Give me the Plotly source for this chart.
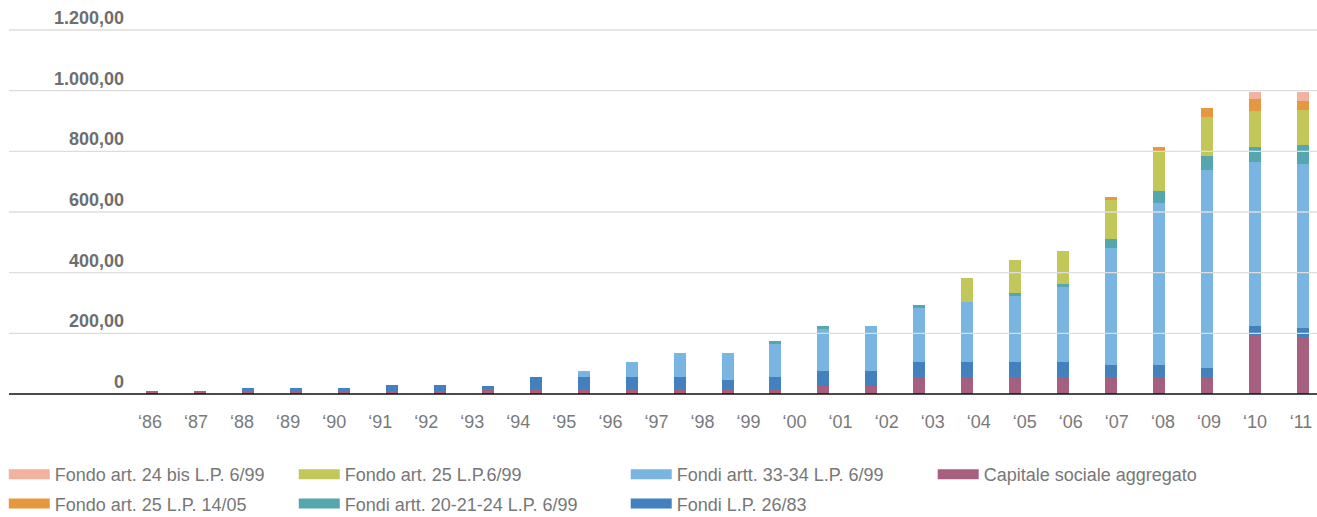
import plotly.graph_objects as go

# Year labels on the axis (1986-2011) and the years carried by the bars
tick_years = list(range(1986, 2012))
tick_labels = ["‘86", "‘87", "‘88", "‘89", "‘90", "‘91", "‘92", "‘93", "‘94",
               "‘95", "‘96", "‘97", "‘98", "‘99", "‘00", "‘01", "‘02", "‘03",
               "‘04", "‘05", "‘06", "‘07", "‘08", "‘09", "‘10", "‘11"]
bar_years = list(range(1987, 2012))

# Stacked components (bottom to top)
capitale = [11, 11, 9, 9, 9, 9, 9, 16, 16, 16, 16, 16, 16, 16, 26, 26,
            56, 56, 56, 56, 56, 56, 56, 195, 188]
fondi_26_83 = [0, 0, 12, 12, 12, 21, 21, 10, 40, 40, 40, 40, 30, 40, 50, 50,
               49, 49, 49, 49, 40, 40, 30, 29, 30]
fondi_33_34 = [0, 0, 0, 0, 0, 0, 0, 0, 0, 20, 50, 79, 89, 109, 138, 149,
               178, 198, 218, 248, 385, 534, 653, 541, 540]
fondi_20_21_24 = [0, 0, 0, 0, 0, 0, 0, 0, 0, 0, 0, 0, 0, 10, 10, 0,
                  10, 0, 10, 10, 30, 39, 46, 49, 63]
fondo_25_699 = [0, 0, 0, 0, 0, 0, 0, 0, 0, 0, 0, 0, 0, 0, 0, 0,
                0, 79, 109, 108, 129, 129, 128, 119, 115]
fondo_25_1405 = [0, 0, 0, 0, 0, 0, 0, 0, 0, 0, 0, 0, 0, 0, 0, 0,
                 0, 0, 0, 0, 10, 16, 30, 40, 30]
fondo_24bis = [0, 0, 0, 0, 0, 0, 0, 0, 0, 0, 0, 0, 0, 0, 0, 0,
               0, 0, 0, 0, 0, 0, 0, 24, 31]

y_ticks = [0, 200, 400, 600, 800, 1000, 1200]
y_tick_text = ["0", "200,00", "400,00", "600,00", "800,00", "1.000,00", "1.200,00"]

# name, values, colour, legend column, rank inside column
series = [
    ("Capitale sociale aggregato", capitale, "#a65f7e", "legend4", 1),
    ("Fondi L.P. 26/83", fondi_26_83, "#4380be", "legend3", 2),
    ("Fondi artt. 33-34 L.P. 6/99", fondi_33_34, "#79b5e0", "legend3", 1),
    ("Fondi artt. 20-21-24 L.P. 6/99", fondi_20_21_24, "#55a6ad", "legend2", 2),
    ("Fondo art. 25 L.P.6/99", fondo_25_699, "#c2c75a", "legend2", 1),
    ("Fondo art. 25 L.P. 14/05", fondo_25_1405, "#e5983f", "legend", 2),
    ("Fondo art. 24 bis L.P. 6/99", fondo_24bis, "#f2b39e", "legend", 1),
]

FONT = "Liberation Sans"
GREY = "#777777"

fig = go.Figure()
for name, vals, color, leg, rank in series:
    fig.add_trace(go.Bar(
        x=bar_years, y=vals, name=name, width=0.25,
        marker=dict(color=color, line=dict(width=0)),
        showlegend=False,
    ))
    # wide legend swatch
    fig.add_trace(go.Scatter(
        x=[None], y=[None], mode="lines", name=name, legendgroup=name,
        line=dict(color=color, width=12),
        legend=leg, legendrank=rank, hoverinfo="skip",
    ))

# axis carrying the year labels
fig.add_trace(go.Scatter(
    x=tick_years, y=[0] * len(tick_years), xaxis="x2", mode="markers",
    marker=dict(opacity=0), showlegend=False, hoverinfo="skip",
))

# horizontal grid drawn over the bars
for v in y_ticks:
    fig.add_shape(type="line", xref="paper", x0=0, x1=1, yref="y", y0=v, y1=v,
                  line=dict(color="#111111" if v == 0 else "#dddddd",
                            width=1.5 if v == 0 else 1.3),
                  layer="above")

for v, t in zip(y_ticks, y_tick_text):
    fig.add_annotation(x=0.0894, xref="paper", xanchor="right", y=v, yref="y",
                       yanchor="bottom", yshift=0, text=t, showarrow=False,
                       font=dict(family=FONT, size=18, color="#6e6e6e", weight="bold"))

legend_common = dict(orientation="v", xanchor="left", yanchor="top", y=-0.1436,
                     font=dict(family=FONT, size=18, color=GREY),
                     bgcolor="rgba(0,0,0,0)", tracegroupgap=3, itemwidth=41,
                     maxheight=300, traceorder="grouped", itemclick=False,
                     itemdoubleclick=False)

fig.update_layout(
    width=1317, height=517,
    margin=dict(l=9, r=0, t=10, b=117, autoexpand=False),
    paper_bgcolor="white", plot_bgcolor="white",
    barmode="stack",
    font=dict(family=FONT, color=GREY),
    xaxis=dict(range=[1984.018, 2011.291], showticklabels=False, showgrid=False,
               zeroline=False, showline=False, ticks=""),
    xaxis2=dict(overlaying="x", anchor="y", side="bottom",
                range=[1982.937, 2011.347], tickmode="array",
                tickvals=tick_years, ticktext=tick_labels,
                tickfont=dict(family=FONT, size=18, color="#7a7a7a"),
                showgrid=False, zeroline=False, showline=False, ticks="",
                ticklabelstandoff=9),
    yaxis=dict(range=[-19.78, 1265.9], showgrid=False, zeroline=False,
               showticklabels=False, ticks=""),
    legend=dict(x=-0.004, **legend_common),
    legend2=dict(x=0.2177, **legend_common),
    legend3=dict(x=0.4715, **legend_common),
    legend4=dict(x=0.7062, **legend_common),
    showlegend=True,
)

fig.write_html("out.html")
